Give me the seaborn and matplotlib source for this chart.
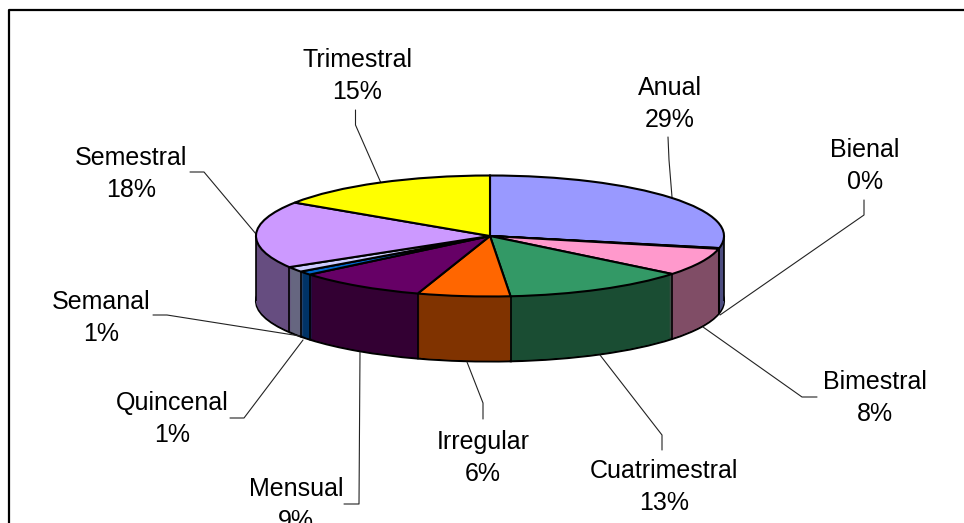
import numpy as np
import matplotlib
matplotlib.use('Agg')
import matplotlib.pyplot as plt
import seaborn as sns

categories = ['Anual', 'Bienal', 'Bimestral', 'Cuatrimestral', 'Irregular',
              'Mensual', 'Quincenal', 'Semanal', 'Semestral', 'Trimestral']
# slice sizes as measured on the drawn pie, printed percentages as labelled
values = [28.2, 0.2, 7.4, 12.8, 6.4, 9.0, 1.0, 1.4, 17.9, 15.7]
percent_labels = ['29%', '0%', '8%', '13%', '6%', '9%', '1%', '1%', '18%', '15%']
top_colors = ['#9999FF', '#993366', '#FF99CC', '#339966', '#FF6600',
              '#660066', '#0066CC', '#CCCCFF', '#CC99FF', '#FFFF00']

sns.set_theme(style='white')
plt.rcParams['font.family'] = ['Liberation Sans', 'DejaVu Sans']

# pie geometry in pixels of the final image
cx, cy = 490, 236
rx, ry = 234, 60.5
depth = 65


def px(x, y):
    return (x - cx) / rx, (cy - y) / ry


palette = sns.color_palette(top_colors)
wall_colors = [tuple(np.array(c) * 0.5) for c in palette]

fig = plt.figure(figsize=(9.64, 5.23), dpi=100, facecolor='white')
ax = fig.add_axes([0, 0, 1, 1])

# wall: stack of darker pies, bottom one outlined
for d in range(depth, 0, -1):
    if d == depth:
        props = {'linewidth': 1.5, 'edgecolor': 'black'}
    else:
        props = {'linewidth': 0}
    ax.pie(values, colors=wall_colors, startangle=90, counterclock=False,
           center=(0, -d / ry), radius=1, wedgeprops=props)

# top face
wedges, _ = ax.pie(values, colors=palette, startangle=90, counterclock=False,
                   center=(0, 0), radius=1,
                   wedgeprops={'linewidth': 1.5, 'edgecolor': 'black'})
for w in wedges:
    w.set_zorder(4)

# upright edges on the visible front of the wall
edge_angles = [w.theta1 for w in wedges] + [0, 180]
for a in edge_angles:
    ex, ey = np.cos(np.radians(a)), np.sin(np.radians(a))
    if ey <= 0.001:
        ax.plot([ex, ex], [ey, ey - depth / ry], color='black', lw=1.2, zorder=3,
                solid_capstyle='butt')

# label centres, leader lines
label_pos = {
    'Anual': (670, 104), 'Bienal': (865, 166), 'Bimestral': (875, 398),
    'Cuatrimestral': (664, 487), 'Irregular': (483, 458), 'Mensual': (296, 505),
    'Quincenal': (172, 419), 'Semanal': (101, 318), 'Semestral': (131, 174),
    'Trimestral': (357, 76),
}
leaders = {
    'Anual': [(668, 137), (669, 160), (672, 197)],
    'Bienal': [(864, 200), (864, 215), (720, 315)],
    'Bimestral': [(817, 397), (802, 397), (703, 327)],
    'Cuatrimestral': [(662, 450), (662, 435), (600, 355)],
    'Irregular': [(483, 419), (483, 403), (467, 362)],
    'Mensual': [(344, 504), (359, 504), (360, 352)],
    'Quincenal': [(230, 418), (244, 418), (303, 340)],
    'Semanal': [(153, 315), (167, 315), (300, 336)],
    'Semestral': [(190, 172), (204, 172), (256, 234)],
    'Trimestral': [(355.5, 110), (355.5, 125), (381, 183)],
}

for name, pct in zip(categories, percent_labels):
    lx, ly = px(*label_pos[name])
    ax.text(lx, ly, f'{name}\n{pct}', ha='center', va='center', fontsize=18,
            color='black', linespacing=1.45, zorder=6)
    pts = np.array([px(*p) for p in leaders[name]])
    ax.plot(pts[:, 0], pts[:, 1], color='#222222', lw=0.8, zorder=2)

# outer frame, open at the right and bottom like the cropped original
frame = np.array([px(9, 523), px(9, 10), px(964, 10)])
ax.plot(frame[:, 0], frame[:, 1], color='black', lw=1.6, zorder=7)

ax.set_aspect('auto')
ax.set_xlim(px(0, 0)[0], px(964, 0)[0])
ax.set_ylim(px(0, 523)[1], px(0, 0)[1])
ax.axis('off')

plt.savefig('out.png', dpi=100, facecolor='white')
